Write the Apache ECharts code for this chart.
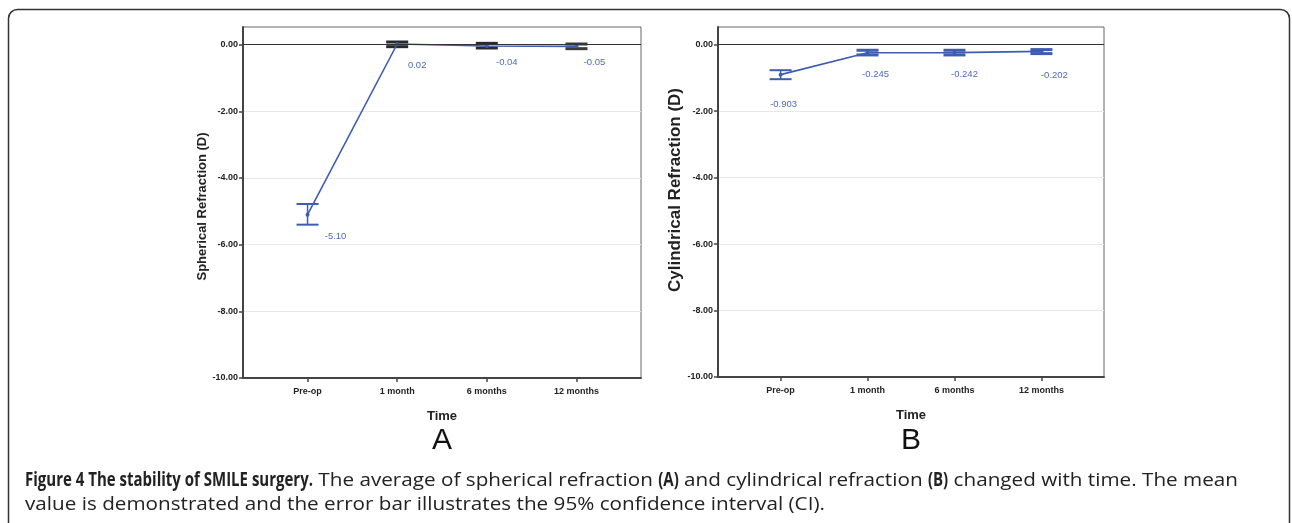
<!DOCTYPE html>
<html>
<head>
<meta charset="utf-8">
<title>Figure 4</title>
<script src="https://cdn.jsdelivr.net/npm/echarts@6/dist/echarts.min.js"></script>
<style>
html, body { margin: 0; padding: 0; background: #fff; }
#chart { width: 1292px; height: 523px; }
</style>
</head>
<body>
<div id="chart"></div>
<script>
// time points on the x axis
var timePoints = ['Pre-op', '1 month', '6 months', '12 months'];
var yTicks = [-10, -8, -6, -4, -2, 0];

// A: spherical refraction (D), mean + 95% CI
var sphMean  = [-5.10, 0.02, -0.04, -0.05];
var sphLower = [-5.40, -0.06, -0.10, -0.12];
var sphUpper = [-4.78, 0.08, 0.04, 0.02];

// B: cylindrical refraction (D), mean + 95% CI
var cylMean  = [-0.903, -0.245, -0.242, -0.202];
var cylLower = [-1.04, -0.31, -0.31, -0.27];
var cylUpper = [-0.77, -0.17, -0.17, -0.15];

var blue = '#3d5cb3';
var labelBlue = '#5069bb';
var sans = '"Liberation Sans", Arial, sans-serif';
var capFont = '"Open Sans", sans-serif';

// where each value label sits relative to its point (px)
var labelOffsetA = [[28, 22], [20, 21], [20, 16], [18, 16]];
var labelOffsetB = [[3, 30], [8, 22], [10, 22], [13, 24]];
var capColorA = [blue, '#2a2a2a', '#2a2a2a', '#3a3a3a'];
var capColorB = [blue, blue, blue, blue];
var capWidth = [2, 3, 3, 3];

var chart = echarts.init(document.getElementById('chart'));

function makeX(gi) {
  return {
    gridIndex: gi,
    type: 'value',
    min: -0.72,
    max: 3.72,
    axisLine: { show: true, onZero: false, lineStyle: { color: '#444', width: 2 } },
    axisTick: { show: true, customValues: [0, 1, 2, 3], length: 4, lineStyle: { color: '#444', width: 1.5 } },
    axisLabel: {
      customValues: [0, 1, 2, 3],
      formatter: function (v) { return timePoints[Math.round(v)]; },
      fontFamily: sans, fontWeight: 'bold', fontSize: 9, color: '#222', margin: 9
    },
    splitLine: { show: false },
    name: 'Time',
    nameLocation: 'middle',
    nameGap: 32,
    nameTextStyle: { fontFamily: sans, fontWeight: 'bold', fontSize: 13, color: '#222' }
  };
}

function makeY(gi, title, titleSize, titleGap, titlePad) {
  return {
    gridIndex: gi,
    type: 'value',
    min: -10,
    max: 0.53,
    interval: 2,
    axisLine: { show: true, onZero: false, lineStyle: { color: '#444', width: 2 } },
    axisTick: { show: true, customValues: yTicks, length: 4, lineStyle: { color: '#444', width: 1.5 } },
    axisLabel: {
      customValues: yTicks,
      formatter: function (v) { return v.toFixed(2); },
      fontFamily: sans, fontWeight: 'bold', fontSize: 9, color: '#222', margin: 5
    },
    splitLine: { show: true, lineStyle: { color: '#e8e8e8', width: 1 } },
    name: title,
    nameLocation: 'middle',
    nameGap: titleGap,
    nameTextStyle: { fontFamily: sans, fontWeight: 'bold', fontSize: titleSize, color: '#222', padding: titlePad }
  };
}

function lineSeries(gi, means, offsets, digits) {
  return {
    type: 'line',
    xAxisIndex: gi,
    yAxisIndex: gi,
    z: 4,
    data: means.map(function (m, i) {
      return { value: [i, m], label: { offset: offsets[i] } };
    }),
    lineStyle: { color: blue, width: 1.6 },
    itemStyle: { color: blue },
    symbol: 'circle',
    symbolSize: 4,
    label: {
      show: true,
      position: 'inside',
      formatter: function (p) { return p.value[1].toFixed(digits); },
      fontFamily: sans, fontSize: 9.5, color: labelBlue,
      backgroundColor: '#fff', padding: [1, 3]
    },
    markLine: {
      silent: true,
      symbol: 'none',
      label: { show: false },
      lineStyle: { color: '#333', width: 1, type: 'solid' },
      data: [{ yAxis: 0 }]
    },
    animation: false
  };
}

function errorBars(gi, lower, upper, colors) {
  return {
    type: 'custom',
    xAxisIndex: gi,
    yAxisIndex: gi,
    z: 3,
    data: lower.map(function (lo, i) { return [i, lo, upper[i]]; }),
    renderItem: function (params, api) {
      var lo = api.coord([api.value(0), api.value(1)]);
      var hi = api.coord([api.value(0), api.value(2)]);
      var c = colors[params.dataIndex];
      var lw = capWidth[params.dataIndex];
      var w = 11;
      return {
        type: 'group',
        children: [
          { type: 'line', shape: { x1: lo[0], y1: lo[1], x2: hi[0], y2: hi[1] }, style: { stroke: c, lineWidth: 1.5 } },
          { type: 'line', shape: { x1: lo[0] - w, y1: lo[1], x2: lo[0] + w, y2: lo[1] }, style: { stroke: c, lineWidth: lw } },
          { type: 'line', shape: { x1: hi[0] - w, y1: hi[1], x2: hi[0] + w, y2: hi[1] }, style: { stroke: c, lineWidth: lw } }
        ]
      };
    },
    animation: false
  };
}

// caption: condensed bold lead-in, wider regular text
var ctx = document.createElement('canvas').getContext('2d');
var capSize = 18.7;
var boldFont = 'bold ' + capSize + 'px ' + capFont;
var normFont = capSize + 'px ' + capFont;
function textW(str, font) { ctx.font = font; return ctx.measureText(str).width; }

var line1 = [
  ['Figure 4 The stability of SMILE surgery.', true],
  [' The average of spherical refraction ', false],
  ['(A)', true],
  [' and cylindrical refraction ', false],
  ['(B)', true],
  [' changed with time. The mean', false]
];
var line2 = [['value is demonstrated and the error bar illustrates the 95% confidence interval (CI).', false]];

var boldScale = 288 / textW(line1[0][0], boldFont);
var boldW = 0, normW = 0;
line1.forEach(function (s) {
  if (s[1]) boldW += textW(s[0], boldFont) * boldScale; else normW += textW(s[0], normFont);
});
var normScale = (1213 - boldW) / normW;

function captionLine(parts, y) {
  var x = 25, out = [];
  parts.forEach(function (s) {
    var sc = s[1] ? boldScale : normScale;
    out.push({
      type: 'text', x: x, y: y, scaleX: sc, silent: true,
      style: { text: s[0], fontFamily: capFont, fontSize: capSize, fontWeight: s[1] ? 'bold' : 'normal', fill: '#222', verticalAlign: 'middle' }
    });
    x += textW(s[0], s[1] ? boldFont : normFont) * sc;
  });
  return out;
}

var graphics = [
  {
    type: 'rect',
    shape: { x: 8.5, y: 9.5, width: 1281, height: 560, r: 9 },
    style: { fill: 'none', stroke: '#333', lineWidth: 1.5 },
    silent: true
  },
  {
    type: 'text', x: 442, y: 441,
    style: { text: 'A', fontFamily: sans, fontSize: 30, fill: '#111', align: 'center', verticalAlign: 'middle' }
  },
  {
    type: 'text', x: 911, y: 441,
    style: { text: 'B', fontFamily: sans, fontSize: 30, fill: '#111', align: 'center', verticalAlign: 'middle' }
  }
].concat(captionLine(line1, 481), captionLine(line2, 505));

chart.setOption({
  animation: false,
  grid: [
    { left: 243, top: 27, width: 398, height: 351, show: true, borderColor: '#666', borderWidth: 1 },
    { left: 718, top: 27, width: 386, height: 350, show: true, borderColor: '#666', borderWidth: 1 }
  ],
  xAxis: [makeX(0), makeX(1)],
  yAxis: [
    makeY(0, 'Spherical Refraction (D)', 13, 27, [0, 8, 0, 0]),
    makeY(1, 'Cylindrical Refraction (D)', 17, 23, [0, 0, 0, 24])
  ],
  series: [
    errorBars(0, sphLower, sphUpper, capColorA),
    lineSeries(0, sphMean, labelOffsetA, 2),
    errorBars(1, cylLower, cylUpper, capColorB),
    lineSeries(1, cylMean, labelOffsetB, 3)
  ],
  graphic: graphics
});
</script>
</body>
</html>
